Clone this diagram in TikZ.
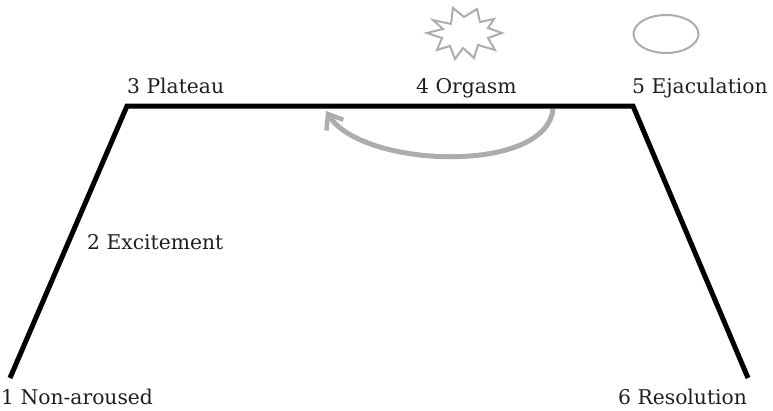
\documentclass[tikz,border=0pt]{standalone}
\usepackage{fontspec}
\setmainfont{DejaVu Serif}
\usetikzlibrary{arrows.meta,shapes.geometric}
\tikzset{
  lab/.style={inner sep=0pt,anchor=base west,text=black!88,font=\fontsize{20.3pt}{24pt}\selectfont},
  curve/.style={draw=black,line width=5pt,line cap=butt,line join=miter},
  grayline/.style={draw=black!32,line width=2pt},
  back/.style={draw=black!32,line width=5pt}
}
\begin{document}
\begin{tikzpicture}[x=1pt,y=-1pt]
\useasboundingbox (0,0) rectangle (773,410);
\coordinate (p1) at (10,378);
\coordinate (p3) at (127,106);
\coordinate (p5) at (633,106);
\coordinate (p6) at (748,378);
\coordinate (bs) at (553,109);
\coordinate (be) at (326,111);
\draw[back,-{Straight Barb[length=13pt,width=20pt,line width=4.5pt]}] (bs) .. controls (546,175) and (362,168) .. (be);
\draw[curve] (p1) -- (p3) -- (p5) -- (p6);
\node[lab] (n1) at (1,404) {1 Non-aroused};
\node[lab] (n2) at (87,249) {2 Excitement};
\node[lab] (n3) at (127,93) {3 Plateau};
\node[lab] (n4) at (416,93) {4 Orgasm};
\node[lab] (n5) at (632,93) {5 Ejaculation};
\node[lab] (n6) at (618,404) {6 Resolution};
\draw[grayline,line join=miter] (427,33) -- (443,29) -- (433,20) -- (451,24) -- (453,8) -- (464,17) -- (477,9) -- (480,22) -- (494,19) -- (488,28) -- (502,33) -- (488,38) -- (495,50) -- (478,45) -- (474,58) -- (463,48) -- (455,59) -- (450,46) -- (437,50) -- (442,38) -- cycle;
\node[draw=black!32,line width=2pt,ellipse,minimum width=65pt,minimum height=38pt,inner sep=0pt] (ov) at (666,34) {};
\end{tikzpicture}
\end{document}
